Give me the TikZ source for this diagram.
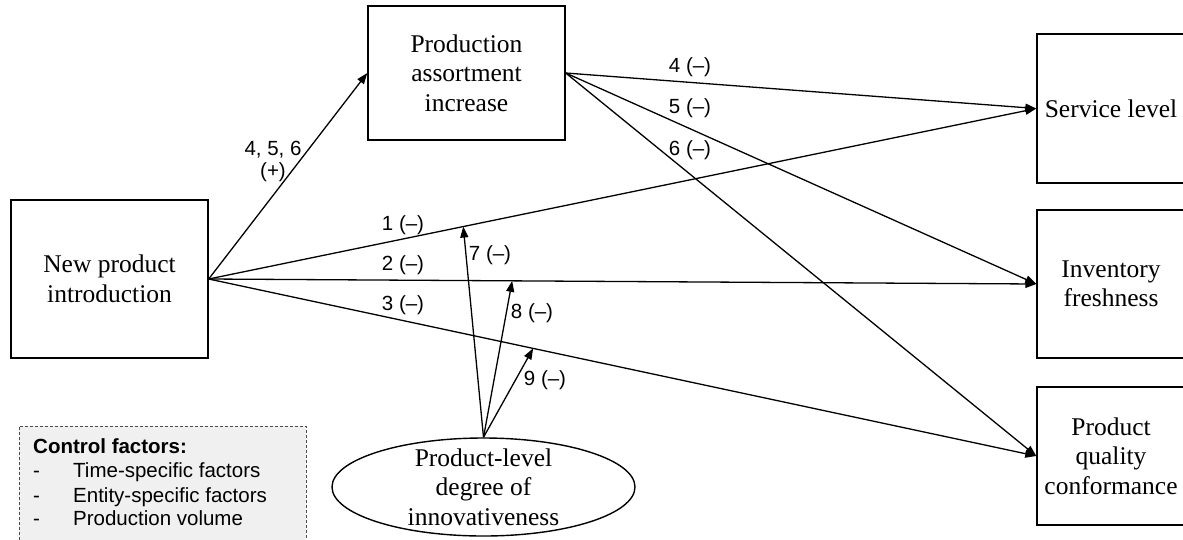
\documentclass[tikz,border=0pt]{standalone}
\usepackage{fontspec}
\setmainfont{Liberation Serif}
\newfontfamily\labfont{Liberation Sans}
\usetikzlibrary{arrows.meta,shapes.geometric}
\begin{document}
\begin{tikzpicture}[x=1pt,y=-1pt,
  every node/.style={inner sep=0pt},
  box/.style={draw, line width=1.4pt, align=center, font=\fontsize{25.5}{29.5}\selectfont},
  link/.style={line width=1.3pt, -{Triangle[length=11pt,width=8pt]}},
  lbl/.style={font=\labfont\fontsize{20.5}{22}\selectfont, align=center},
  ctrltext/.style={font=\labfont\fontsize{20.5}{24}\selectfont, anchor=base west},
]
\useasboundingbox (0,0) rectangle (1183,539);
\clip (0,0) rectangle (1183,539);

% control factors panel (runs off the lower edge)
\fill[gray!12] (19,426) rectangle (306,560);
\draw[gray!60!black, line width=1pt, dash pattern=on 3pt off 2pt]
  (19,560) -- (19,426) -- (306,426) -- (306,560);
\node[ctrltext] (ctitle) at (33,453) {\bfseries Control factors:};
\node[ctrltext] (c1) at (33,477) {\makebox[40pt][l]{-}Time-specific factors};
\node[ctrltext] (c2) at (33,502) {\makebox[40pt][l]{-}Entity-specific factors};
\node[ctrltext] (c3) at (33,525) {\makebox[40pt][l]{-}Production volume};

% constructs
\node[box, minimum width=197pt, minimum height=158pt] (npi) at (109.5,279) {New product\\introduction};
\node[box, minimum width=197pt, minimum height=134pt] (pai) at (466.5,73) {Production\\assortment\\increase};
\node[box, minimum width=148pt, minimum height=149pt] (sl) at (1111,108.5) {Service level};
\node[box, minimum width=148pt, minimum height=148pt] (inv) at (1111,284) {Inventory\\freshness};
\node[box, minimum width=148pt, minimum height=138pt] (pqc) at (1111,456) {Product\\quality\\conformance};
\node[box, ellipse, minimum width=303pt, minimum height=98pt, inner ysep=-10pt] (inn) at (483.5,487)
  {Product-level\\degree of\\innovativeness};

% direct effects
\draw[link] (npi.east) -- (pai.west);
\draw[link] (npi.east) -- coordinate[pos=0.3076] (m1) (sl.west);
\draw[link] (npi.east) -- coordinate[pos=0.3667] (m2) (inv.west);
\draw[link] (npi.east) -- coordinate[pos=0.392] (m3) (pqc.west);
\draw[link] (pai.east) -- (sl.west);
\draw[link] (pai.east) -- (inv.west);
\draw[link] (pai.east) -- (pqc.west);

% moderation
\draw[link] (inn.north) -- (m1);
\draw[link] (inn.north) -- (m2);
\draw[link] (inn.north) -- (m3);

% path labels
\node[lbl] (l456) at (273,161) {4, 5, 6\\(+)};
\node[lbl] (l1) at (403,225) {1 (–)};
\node[lbl] (l2) at (403,265) {2 (–)};
\node[lbl] (l3) at (403,305) {3 (–)};
\node[lbl] (l4) at (690,67) {4 (–)};
\node[lbl] (l5) at (690,108) {5 (–)};
\node[lbl] (l6) at (690,150) {6 (–)};
\node[lbl] (l7) at (490,255) {7 (–)};
\node[lbl] (l8) at (532,313) {8 (–)};
\node[lbl] (l9) at (545,380) {9 (–)};
\end{tikzpicture}
\end{document}
